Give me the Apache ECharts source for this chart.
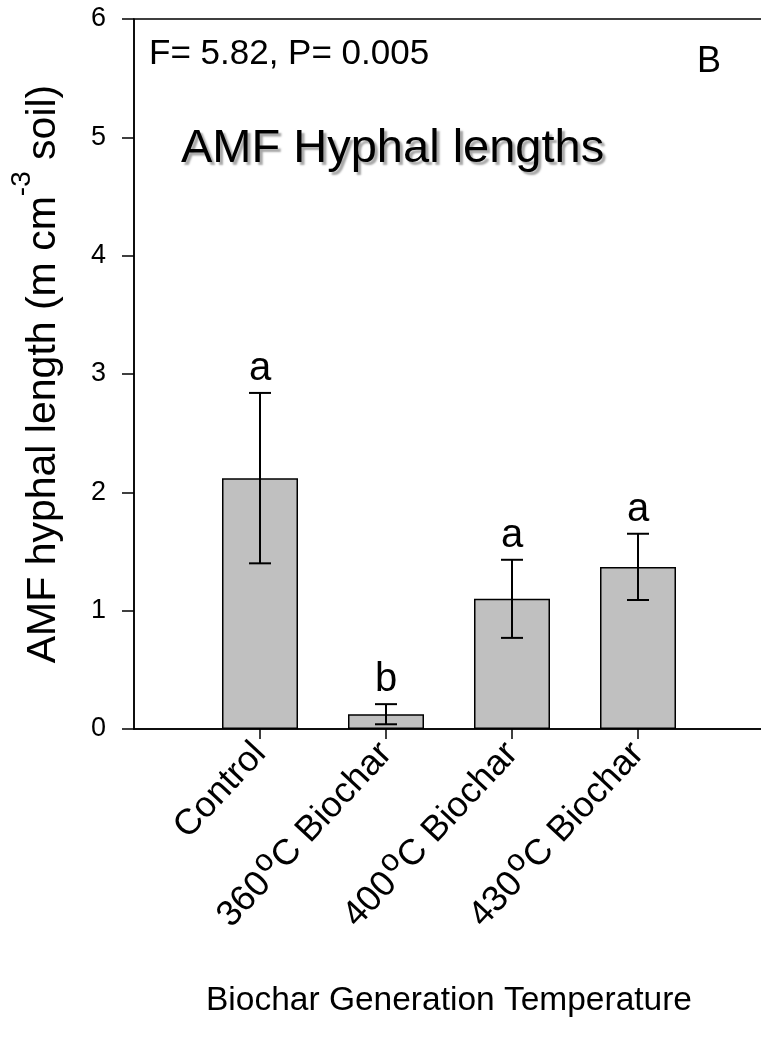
<!DOCTYPE html>
<html><head><meta charset="utf-8">
<script src="https://cdn.jsdelivr.net/npm/echarts@6/dist/echarts.min.js"></script>
<style>html,body{margin:0;padding:0;background:#fff}#c{width:761px;height:1046px}</style>
</head><body><div id="c"></div>
<script>
// ---- data ----
const categories = ['Control', '360 oC Biochar', '400 oC Biochar', '430 oC Biochar'];
const means = [2.12, 0.125, 1.10, 1.37];
const errors = [0.72, 0.085, 0.33, 0.28];
const letters = ['a', 'b', 'a', 'a'];
const yTicks = [0, 1, 2, 3, 4, 5, 6];
const statText = 'F= 5.82, P= 0.005';
const titleText = 'AMF Hyphal lengths';
const panelText = 'B';
const xTitle = 'Biochar Generation Temperature';
const yTitle = 'AMF hyphal length (m cm{sup|-3} soil)';

// ---- build ----
const FONT = 'Liberation Sans, Arial, Helvetica, sans-serif';
const axisData = [''].concat(categories, ['']);
const barData = ['-'].concat(means, ['-']);
const errData = means.map((m, i) => [i + 1, m, errors[i], i]);

const chart = echarts.init(document.getElementById('c'), null, {renderer: 'canvas'});
chart.setOption({
  animation: false,
  backgroundColor: '#fff',
  grid: {left: 134, right: -3, top: 19, bottom: 317, show: true, borderColor: '#000', borderWidth: 1.5,
    containLabel: false, outerBoundsMode: 'none'},
  xAxis: {
    type: 'category', data: axisData, boundaryGap: false,
    axisLine: {lineStyle: {color: '#000', width: 1.5}},
    axisTick: {length: 10, lineStyle: {color: '#000', width: 1.5}, interval: (i) => i >= 1 && i <= categories.length},
    axisLabel: {
      interval: (i) => i >= 1 && i <= categories.length,
      rotate: 47, margin: 19, color: '#000', fontSize: 36, fontFamily: FONT,
      formatter: (v) => v.replace(' oC', '{gap| }{sup|o}C'),
      rich: {
        gap: {fontSize: 8, fontFamily: FONT},
        sup: {fontSize: 31, fontFamily: FONT, color: '#000', verticalAlign: 'top', lineHeight: 54}
      }
    },
    splitLine: {show: false},
    name: xTitle, nameLocation: 'middle', nameGap: 255,
    nameTextStyle: {fontSize: 33.5, fontFamily: FONT, color: '#000'}
  },
  yAxis: {
    type: 'value', min: yTicks[0], max: yTicks[yTicks.length - 1], interval: 1,
    axisLine: {show: true, lineStyle: {color: '#000', width: 1.5}},
    axisTick: {show: true, length: 12, lineStyle: {color: '#000', width: 1.5}},
    axisLabel: {margin: 28, color: '#000', fontSize: 27, fontFamily: FONT},
    splitLine: {show: false},
    name: yTitle, nameLocation: 'middle', nameGap: 54, nameRotate: 90,
    nameTextStyle: {
      fontSize: 41, fontFamily: FONT, color: '#000', lineHeight: 72,
      rich: {sup: {fontSize: 28, fontFamily: FONT, color: '#000', verticalAlign: 'top'}}
    }
  },
  series: [
    {
      type: 'bar', data: barData, barWidth: 76,
      itemStyle: {color: '#c0c0c0', borderColor: '#000', borderWidth: 1.5},
      z: 2
    },
    {
      type: 'custom', data: errData, z: 5,
      renderItem: function (params, api) {
        const x = api.value(0), m = api.value(1), e = api.value(2), idx = api.value(3);
        const top = api.coord([x, m + e]);
        const bot = api.coord([x, m - e]);
        const hw = 11;
        const st = {stroke: '#000', lineWidth: 2};
        return {type: 'group', children: [
          {type: 'line', shape: {x1: top[0], y1: top[1], x2: bot[0], y2: bot[1]}, style: st},
          {type: 'line', shape: {x1: top[0] - hw, y1: top[1], x2: top[0] + hw, y2: top[1]}, style: st},
          {type: 'line', shape: {x1: bot[0] - hw, y1: bot[1], x2: bot[0] + hw, y2: bot[1]}, style: st},
          {type: 'text', style: {text: letters[idx], x: top[0], y: top[1] - 4, align: 'center', verticalAlign: 'bottom',
            fontSize: 40, fontFamily: FONT, fill: '#000'}}
        ]};
      }
    }
  ],
  graphic: [
    {type: 'text', left: 149, top: 37, style: {text: statText, fontSize: 35, fontFamily: FONT, fill: '#000'}},
    {type: 'text', left: 181, top: 126, style: {text: titleText, fontSize: 47, fontFamily: FONT, fill: '#000',
      textShadowColor: 'rgba(0,0,0,0.35)', textShadowOffsetX: 3, textShadowOffsetY: 3, textShadowBlur: 2}},
    {type: 'text', left: 697, top: 44, style: {text: panelText, fontSize: 36, fontFamily: FONT, fill: '#000'}}
  ]
});
</script></body></html>
